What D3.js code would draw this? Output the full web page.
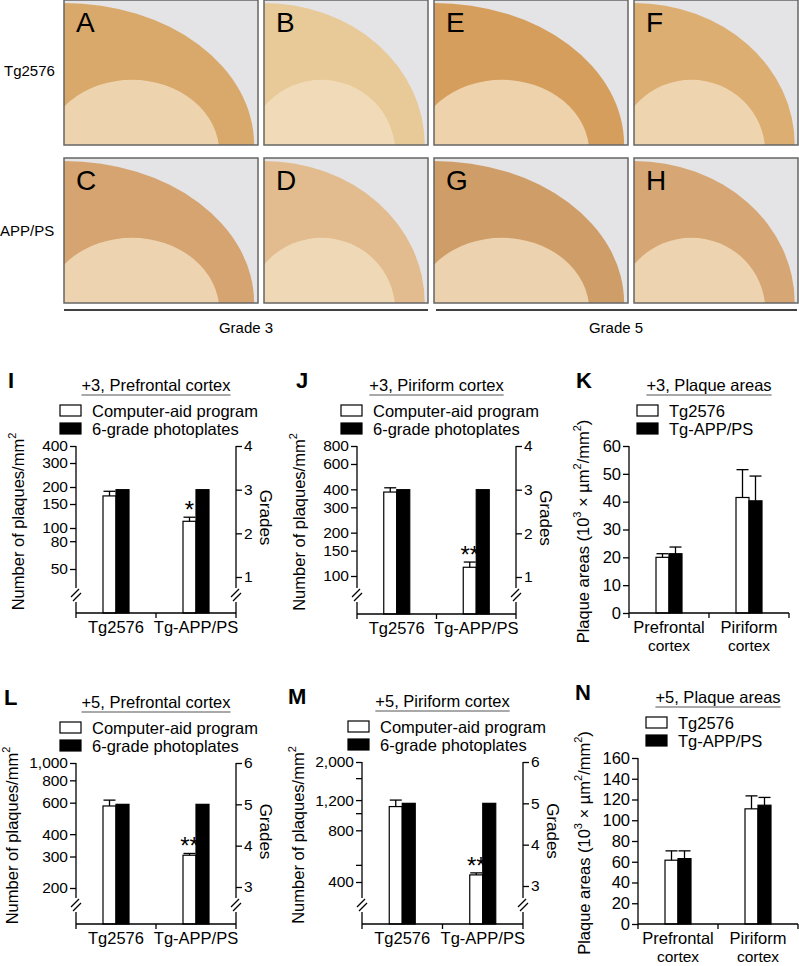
<!DOCTYPE html>
<html><head><meta charset="utf-8">
<script src="https://cdn.jsdelivr.net/npm/d3@7"></script>
<style>
body{margin:0;background:#fff}
text{font-family:"Liberation Sans",Arial,sans-serif;fill:#000}
.axis path,.axis line{stroke:#000;stroke-width:1.3}
</style></head>
<body><svg id="fig" width="799" height="966"></svg>
<script>
// ---- data ----
var groups = ["Tg2576", "Tg-APP/PS"];
var regions = ["Prefrontal cortex", "Piriform cortex"];
var methodLegend = ["Computer-aid program", "6-grade photoplates"];

// +3 month counts (plaques/mm2) and grades
var countI = [172, 112], errI = [186, 120], gradeI = [3, 3];
var countJ = [383, 115], errJ = [410, 125], gradeJ = [3, 3];
// +5 month
var countL = [575, 305], errL = [620, 312], gradeL = [5, 5];
var countM = [1100, 440], errM = [1200, 452], gradeM = [5, 5];
// plaque areas (10^3 um2/mm2)
var areaK_tg = [20, 41.5], areaK_tgErr = [21.3, 51.5];
var areaK_app = [21.3, 40.3], areaK_appErr = [23.7, 49.2];
var areaN_tg = [61.5, 111], areaN_tgErr = [70.5, 123.5];
var areaN_app = [63, 114.5], areaN_appErr = [70.5, 122];

var ticksI = [50, 80, 100, 150, 200, 300, 400];
var ticksJ = [100, 150, 200, 300, 400, 600, 800];
var ticksL = [200, 300, 400, 600, 800, 1000];
var ticksM = [400, 800, 1200, 2000], minorM = [500, 1000, 1600];
var gradeTicks3 = [1, 2, 3, 4], gradeTicks5 = [3, 4, 5, 6];

var svg = d3.select("#fig");
var FS = 16.5, TS = 15.5;

// ---- photo panels (schematic) ----
var photos = [
	{l:"A", x:64, y:0, w:194, h:145, tone:"#d8a96b"},
	{l:"B", x:264, y:0, w:164, h:145, tone:"#e8c998"},
	{l:"E", x:434, y:0, w:194, h:145, tone:"#d59e5c"},
	{l:"F", x:634, y:0, w:164, h:145, tone:"#dcae72"},
	{l:"C", x:64, y:158, w:194, h:145, tone:"#d5a470"},
	{l:"D", x:264, y:158, w:164, h:145, tone:"#e2bc8e"},
	{l:"G", x:434, y:158, w:194, h:145, tone:"#cf9e68"},
	{l:"H", x:634, y:158, w:164, h:145, tone:"#d6a775"}
];
photos.forEach(function(p, k)
{
	var g = svg.append("g").attr("transform", "translate(" + p.x + "," + p.y + ")");
	g.append("clipPath").attr("id", "clip" + k).append("rect").attr("width", p.w).attr("height", p.h);
	var inner = g.append("g").attr("clip-path", "url(#clip" + k + ")");
	inner.append("rect").attr("width", p.w).attr("height", p.h).attr("fill", "#e4e3e6");
	inner.append("ellipse").attr("cx", 0).attr("cy", p.h).attr("rx", p.w * 0.98).attr("ry", p.h * 0.98).attr("fill", p.tone);
	inner.append("ellipse").attr("cx", p.w * 0.35).attr("cy", p.h * 1.05).attr("rx", p.w * 0.45).attr("ry", p.h * 0.5).attr("fill", "#f2dfbf").attr("opacity", 0.8);
	g.append("rect").attr("width", p.w).attr("height", p.h).attr("fill", "none").attr("stroke", "#666").attr("stroke-width", 1.5);
	g.append("text").attr("x", 12).attr("y", 32).attr("font-size", 28).attr("fill", "#222").text(p.l);
});
svg.append("text").attr("x", 4).attr("y", 76).attr("font-size", 15).text("Tg2576");
svg.append("text").attr("x", 0).attr("y", 236).attr("font-size", 15).text("APP/PS");
svg.append("line").attr("x1", 64).attr("x2", 428).attr("y1", 310).attr("y2", 310).attr("stroke", "#000").attr("stroke-width", 1.3);
svg.append("line").attr("x1", 436).attr("x2", 797).attr("y1", 310).attr("y2", 310).attr("stroke", "#000").attr("stroke-width", 1.3);
svg.append("text").attr("x", 246).attr("y", 333).attr("font-size", 15).attr("text-anchor", "middle").text("Grade 3");
svg.append("text").attr("x", 616).attr("y", 333).attr("font-size", 15).attr("text-anchor", "middle").text("Grade 5");

function fmt(v){ return d3.format(",")(v); }

function header(c, letter, title, legend)
{
	svg.append("text").attr("x", c.lx).attr("y", c.top - 58).attr("font-size", 22).attr("font-weight", "bold").text(letter);
	var tt = svg.append("text").attr("x", (c.x0 + c.x1) / 2).attr("y", c.top - 55).attr("font-size", FS)
		.attr("text-anchor", "middle").text(title);
	var w = tt.node().getComputedTextLength();
	svg.append("line").attr("x1", (c.x0 + c.x1) / 2 - w / 2).attr("x2", (c.x0 + c.x1) / 2 + w / 2)
		.attr("y1", c.top - 51).attr("y2", c.top - 51).attr("stroke", "#555").attr("stroke-width", 1.2);
	legend.forEach(function(s, i)
	{
		var y = c.top - 41 + i * 18;
		svg.append("rect").attr("x", c.legx).attr("y", y).attr("width", 21).attr("height", 11)
			.attr("fill", i ? "#000" : "#fff").attr("stroke", "#000").attr("stroke-width", 1.2);
		svg.append("text").attr("x", c.legx + 32).attr("y", y + 12).attr("font-size", FS).text(s);
	});
}

function breakMark(x, y)
{
	svg.append("line").attr("x1", x - 5).attr("x2", x + 3).attr("y1", y + 2).attr("y2", y - 6).attr("stroke", "#000").attr("stroke-width", 1.2);
	svg.append("line").attr("x1", x - 3).attr("x2", x + 5).attr("y1", y + 6).attr("y2", y - 2).attr("stroke", "#000").attr("stroke-width", 1.2);
}

function xAxis(c, x, labels)
{
	svg.append("line").attr("x1", c.x0).attr("x2", c.x1).attr("y1", c.base).attr("y2", c.base).attr("stroke", "#000").attr("stroke-width", 1.3);
	[c.x0, (c.x0 + c.x1) / 2, c.x1].forEach(function(t)
	{
		svg.append("line").attr("x1", t).attr("x2", t).attr("y1", c.base).attr("y2", c.base + 5).attr("stroke", "#000").attr("stroke-width", 1.3);
	});
	labels.forEach(function(l, i)
	{
		l.split("\n").forEach(function(s, j)
		{
			svg.append("text").attr("x", x(i) + x.bandwidth() / 2).attr("y", c.base + 20 + j * 17.5)
				.attr("font-size", j ? 15.5 : FS).attr("text-anchor", "middle").text(s);
		});
	});
}

function bar(x0, w, yTop, base, black)
{
	svg.append("rect").attr("x", x0).attr("y", yTop).attr("width", w).attr("height", base - yTop)
		.attr("fill", black ? "#000" : "#fff").attr("stroke", "#000").attr("stroke-width", 1.2);
}
function err(xc, yTop, yErr)
{
	svg.append("line").attr("x1", xc).attr("x2", xc).attr("y1", yTop).attr("y2", yErr).attr("stroke", "#000").attr("stroke-width", 1.3);
	svg.append("line").attr("x1", xc - 6).attr("x2", xc + 6).attr("y1", yErr).attr("y2", yErr).attr("stroke", "#000").attr("stroke-width", 1.3);
}

function styleAxis(a)
{
	a.select(".domain").remove();
	a.selectAll("text").attr("font-size", TS).style("font-family", "Liberation Sans, Arial");
}

// count chart with log left axis + linear grade right axis
function countChart(c)
{
	header(c, c.letter, c.title, methodLegend);
	var x = d3.scaleBand().domain(d3.range(groups.length)).range([c.x0, c.x1]);
	var y = d3.scaleLog().domain(c.ydom).range([c.ylow, c.top]);
	var yg = d3.scaleLinear().domain(c.gdom).range([c.glow, c.top]);
	var bw = 13;

	styleAxis(svg.append("g").attr("class", "axis").attr("transform", "translate(" + c.x0 + ",0)")
		.call(d3.axisLeft(y).tickValues(c.ticks).tickFormat(fmt).tickSize(6).tickPadding(2)));
	if (c.minor) c.minor.forEach(function(m)
	{
		svg.append("line").attr("x1", c.x0 - 6).attr("x2", c.x0).attr("y1", y(m)).attr("y2", y(m)).attr("stroke", "#000").attr("stroke-width", 1.3);
	});
	styleAxis(svg.append("g").attr("class", "axis").attr("transform", "translate(" + c.x1 + ",0)")
		.call(d3.axisRight(yg).tickValues(c.gticks).tickFormat(d3.format("d")).tickSize(6).tickPadding(2)));
	[c.x0, c.x1].forEach(function(ax)
	{
		svg.append("line").attr("x1", ax).attr("x2", ax).attr("y1", c.top).attr("y2", c.brk - 7).attr("stroke", "#000").attr("stroke-width", 1.3);
		svg.append("line").attr("x1", ax).attr("x2", ax).attr("y1", c.brk + 7).attr("y2", c.base).attr("stroke", "#000").attr("stroke-width", 1.3);
		breakMark(ax, c.brk);
	});

	groups.forEach(function(g, i)
	{
		var cx = x(i) + x.bandwidth() / 2;
		bar(cx - bw, bw, y(c.count[i]), c.base, false);
		err(cx - bw / 2, y(c.count[i]), y(c.err[i]));
		bar(cx, bw, yg(c.grade[i]), c.base, true);
	});
	var cx1 = x(1) + x.bandwidth() / 2 - bw / 2;
	svg.append("text").attr("x", cx1).attr("y", y(c.err[1]) + 1).attr("font-size", 24)
		.attr("text-anchor", "middle").text(c.star);

	xAxis(c, x, groups);
	svg.append("text").attr("transform", "translate(" + (c.x0 - c.lab) + "," + ((c.top + c.base) / 2 - 8) + ") rotate(-90)")
		.attr("font-size", 16.5).attr("text-anchor", "middle").text("Number of plaques/mm")
		.append("tspan").attr("font-size", 11).attr("dy", -8).text("2");
	svg.append("text").attr("transform", "translate(" + (c.x1 + 24) + "," + ((c.top + c.base) / 2 - 12) + ") rotate(90)")
		.attr("font-size", 17).attr("text-anchor", "middle").text("Grades");
}

function areaChart(c)
{
	header(c, c.letter, c.title, groups);
	var x = d3.scaleBand().domain(d3.range(regions.length)).range([c.x0, c.x1]);
	var y = d3.scaleLinear().domain(c.ydom).range([c.base, c.top]);
	var bw = 13;
	var la = svg.append("g").attr("class", "axis").attr("transform", "translate(" + c.x0 + ",0)")
		.call(d3.axisLeft(y).ticks(c.nt).tickSize(6).tickPadding(2));
	la.select(".domain").attr("d", "M0," + c.top + "V" + c.base);
	la.selectAll("text").attr("font-size", TS + 1).style("font-family", "Liberation Sans, Arial");
	regions.forEach(function(r, i)
	{
		var cx = x(i) + x.bandwidth() / 2;
		bar(cx - bw, bw, y(c.tg[i]), c.base, false);
		err(cx - bw / 2, y(c.tg[i]), y(c.tgErr[i]));
		bar(cx, bw, y(c.app[i]), c.base, true);
		err(cx + bw / 2, y(c.app[i]), y(c.appErr[i]));
	});
	xAxis(c, x, ["Prefrontal\ncortex", "Piriform\ncortex"]);
	var t = svg.append("text").attr("transform", "translate(" + (c.x0 - c.lab) + "," + ((c.top + c.base) / 2 + 2) + ") rotate(-90)")
		.attr("font-size", 16.5).attr("text-anchor", "middle").text("Plaque areas (10");
	t.append("tspan").attr("font-size", 11).attr("dy", -8).text("3");
	t.append("tspan").attr("dy", 8).text(" \u00d7 \u00b5m");
	t.append("tspan").attr("font-size", 11).attr("dy", -8).text("2");
	t.append("tspan").attr("dy", 8).text("/mm");
	t.append("tspan").attr("font-size", 11).attr("dy", -8).text("2");
	t.append("tspan").attr("dy", 8).text(")");
}

countChart({letter:"I", title:"+3, Prefrontal cortex", lx:8, legx:60, x0:76, x1:236, top:446, base:613, brk:595, lab:52,
	ydom:[50, 400], ylow:569, gdom:[1, 4], glow:577, ticks:ticksI, gticks:gradeTicks3,
	count:countI, err:errI, grade:gradeI, star:"*"});
countChart({letter:"J", title:"+3, Piriform cortex", lx:296, legx:341, x0:357, x1:516, top:446, base:614, brk:595, lab:52,
	ydom:[100, 800], ylow:576, gdom:[1, 4], glow:577, ticks:ticksJ, gticks:gradeTicks3,
	count:countJ, err:errJ, grade:gradeJ, star:"**"});
areaChart({letter:"K", title:"+3, Plaque areas", lx:576, legx:637, x0:629, x1:789, top:446, base:613, lab:40,
	ydom:[0, 60], nt:6, tg:areaK_tg, tgErr:areaK_tgErr, app:areaK_app, appErr:areaK_appErr});

countChart({letter:"L", title:"+5, Prefrontal cortex", lx:4, legx:60, x0:76, x1:236, top:763, base:924, brk:905, lab:58,
	ydom:[200, 1000], ylow:888, gdom:[3, 6], glow:887, ticks:ticksL, gticks:gradeTicks5,
	count:countL, err:errL, grade:gradeL, star:"**"});
countChart({letter:"M", title:"+5, Piriform cortex", lx:288, legx:348, x0:362, x1:523, top:762, base:924, brk:905, lab:58,
	ydom:[400, 2000], ylow:882, gdom:[3, 6], glow:886, ticks:ticksM, minor:minorM, gticks:gradeTicks5,
	count:countM, err:errM, grade:gradeM, star:"**"});
areaChart({letter:"N", title:"+5, Plaque areas", lx:575, legx:646, x0:638, x1:798, top:758, base:924, lab:48,
	ydom:[0, 160], nt:8, tg:areaN_tg, tgErr:areaN_tgErr, app:areaN_app, appErr:areaN_appErr});
</script></body></html>
